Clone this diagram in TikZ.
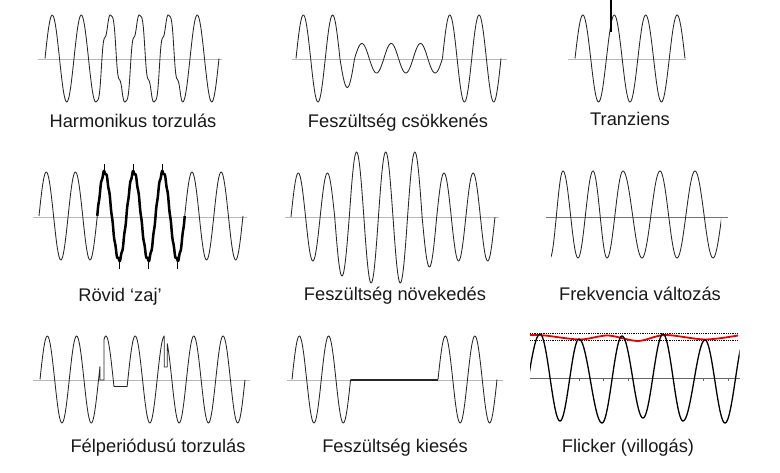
\documentclass[tikz,border=0pt]{standalone}
\usepackage{fontspec}
\setmainfont{Liberation Sans}
\usepackage{tikz}
\tikzset{
wave/.style = {draw=black!85, line width=0.85pt, line join=round},
zero/.style = {draw=black!28, line width=0.7pt},
caption/.style = {font=\fontsize{18.3}{22}\selectfont, text=black!90,
                  anchor=base, inner sep=0pt}
}
\tikzset{
noisy/.style = {wave, draw=black, line width=2.5pt},
spike/.style = {draw=black, line width=1.2pt},
dotline/.style = {draw=black, densely dotted, line width=0.8pt},
envelope/.style = {draw=red!90!black, line width=1.8pt}
}

\begin{document}
\begin{tikzpicture}[x=1pt, y=-1pt,
    declare function={harm(\t)=sin(\t)+0.3*cos(3*\t)*cos(\t)*cos(\t);}]

    \useasboundingbox (0,0) rectangle (780,473);

    % harmonikus torzulas
    \draw[zero] (38,59) -- (222,59);
    \draw[wave] plot[domain=45:95.75, samples=60] (\x,{58.5-43.5*sin((\x-45)/29*360)})
        -- plot[domain=95.75:182.75, samples=220] (\x,{58.5-43.5*harm((\x-45)/29*360)})
        -- plot[domain=182.75:219, samples=50] (\x,{58.5-43.5*sin((\x-45)/29*360)});
    \node[caption] (harmText) at (133,127.7) {Harmonikus torzulás};

    % feszultseg csokkenes
    \draw[zero] (292,59) -- (507,59);
    \foreach \amp [count=\i from 0] in {43.5,43.5,43.5,29,15,14.5,15,14.5,15,14.5,43.5,43.5,43.5,43.5}{
        \pgfmathsetmacro\xa{296+\i*14.645}
        \pgfmathsetmacro\xb{\xa+14.645}
        \draw[wave] plot[domain=\xa:\xb, samples=25] (\x,{58.5-\amp*sin((\x-296)/29.29*360)});
    }
    \node[caption] (dropText) at (398,127.7) {Feszültség csökkenés};

    % tranziens
    \draw[zero] (568,59) -- (686,59);
    \draw[wave] plot[domain=575:685, samples=150] (\x,{58.5-43.5*sin((\x-575)/31.43*360)});
    \draw[spike, line width=1.4pt] (611,0.5) -- (611,32);
    \node[caption] (tranText) at (630,125.7) {Tranziens};

    % rovid zaj
    \draw[zero] (33,217) -- (247,217);
    \draw[wave] plot[domain=39:97.3, samples=80] (\x,{216-44*sin((\x-39)/29.14*360)});
    \draw[wave] plot[domain=184.7:243, samples=80] (\x,{216-44*sin((\x-39)/29.14*360)});
    \draw[noisy] plot[domain=97.3:184.7, samples=320]
        (\x,{216-44*(sin((\x-39)/29.14*360)+0.035*sin((\x-97.3)/29.14*3600))});
    \foreach \k in {0,1,2}{
        \draw[spike] ({104.6+\k*29.14},164.5) -- ++(0,10);
        \draw[spike] ({119.1+\k*29.14},259) -- ++(0,10);
    }
    \node[caption] (noiseText) at (120,301.7) {Rövid `zaj'};

    % feszultseg novekedes
    \draw[zero] (285,217) -- (499,217);
    \foreach \amp [count=\i from 0] in {44,44,44,59,65,66,65,66,65,50,44,44,44,44}{
        \pgfmathsetmacro\xa{291+\i*14.57}
        \pgfmathsetmacro\xb{\xa+14.57}
        \draw[wave] plot[domain=\xa:\xb, samples=25] (\x,{217-\amp*sin((\x-291)/29.14*360)});
    }
    \node[caption] (swellText) at (395,301) {Feszültség növekedés};

    % frekvencia valtozas
    \draw[zero, draw=black!55] (546,217) -- (728,217);
    \begin{scope}
        \clip (551,150) rectangle (721,270);
        \foreach \xa/\xb/\s in {550/563/1, 563/578/-1, 578/593/1, 593/607/-1, 607/623/1,
                                623/642/-1, 642/660/1, 660/677/-1, 677/695/1, 695/713/-1, 713/731/1}
            \draw[wave] plot[domain=\xa:\xb, samples=30]
                (\x,{214.5+(\s)*43.5*cos((\x-\xa)/(\xb-\xa)*180)});
    \end{scope}
    \node[caption] (freqText) at (640,301) {Frekvencia változás};

    % felperiodusu torzulas
    \draw[zero] (33,380) -- (250,380);
    \draw[wave] plot[domain=40:100, samples=80] (\x,{379.5-43.5*sin((\x-40)/29.29*360)})
        -- (100,380) -- (104,380)
        -- plot[domain=104:135, samples=60] (\x,{min(386.5,379.5-43.5*sin((\x-40)/29.29*360))})
        -- plot[domain=135:164.3, samples=40] (\x,{379.5-43.5*sin((\x-40)/29.29*360)})
        -- (164.3,367) -- (167.3,367)
        -- plot[domain=167.3:245, samples=110] (\x,{379.5-43.5*sin((\x-40)/29.29*360)});
    \node[caption] (halfText) at (158,452) {Félperiódusú torzulás};

    % feszultseg kieses
    \draw[zero] (287,380) -- (503,380);
    \draw[wave] plot[domain=292:350.6, samples=80] (\x,{379.5-43.5*sin((\x-292)/29.3*360)});
    \draw[wave, line width=1.8pt] (350.6,380) -- (438,380);
    \draw[wave] plot[domain=438:497, samples=80] (\x,{379.5-43.5*sin((\x-438)/29.5*360)});
    \node[caption] (outText) at (395,452.7) {Feszültség kiesés};

    % flicker
    \draw[zero, draw=black!60] (530,378) -- (740,378);
    \foreach \t in {579,603,628,703,728}
        \draw[zero, draw=black!60] (\t,378) -- ++(0,3);
    \draw[dotline] (530,333.5) -- (738,333.5);
    \draw[dotline] (530,340) -- (738,340);
    \draw[envelope] plot[smooth] coordinates {(530,335) (545,335.5) (580,339.5) (608,335.5)
        (638,341) (665,335) (705,339.5) (738,335.5)};
    \begin{scope}
        \clip (530,300) rectangle (739.5,440);
        \foreach \xa/\ya/\xb/\yb in {517/421/540/334, 540/334/560/421, 560/421/579/339,
                                     579/339/602/423, 602/423/622/336, 622/336/643/418,
                                     643/418/663/334, 663/334/683/421, 683/421/705/340,
                                     705/340/725/423, 725/423/746/334}
            \draw[wave, draw=black, line width=1.3pt] plot[domain=\xa:\xb, samples=30]
                (\x,{(\ya+\yb)/2+(\ya-\yb)/2*cos((\x-\xa)/(\xb-\xa)*180)});
    \end{scope}
    \node[caption] (flickText) at (628,452.7) {Flicker (villogás)};

\end{tikzpicture}
\end{document}
